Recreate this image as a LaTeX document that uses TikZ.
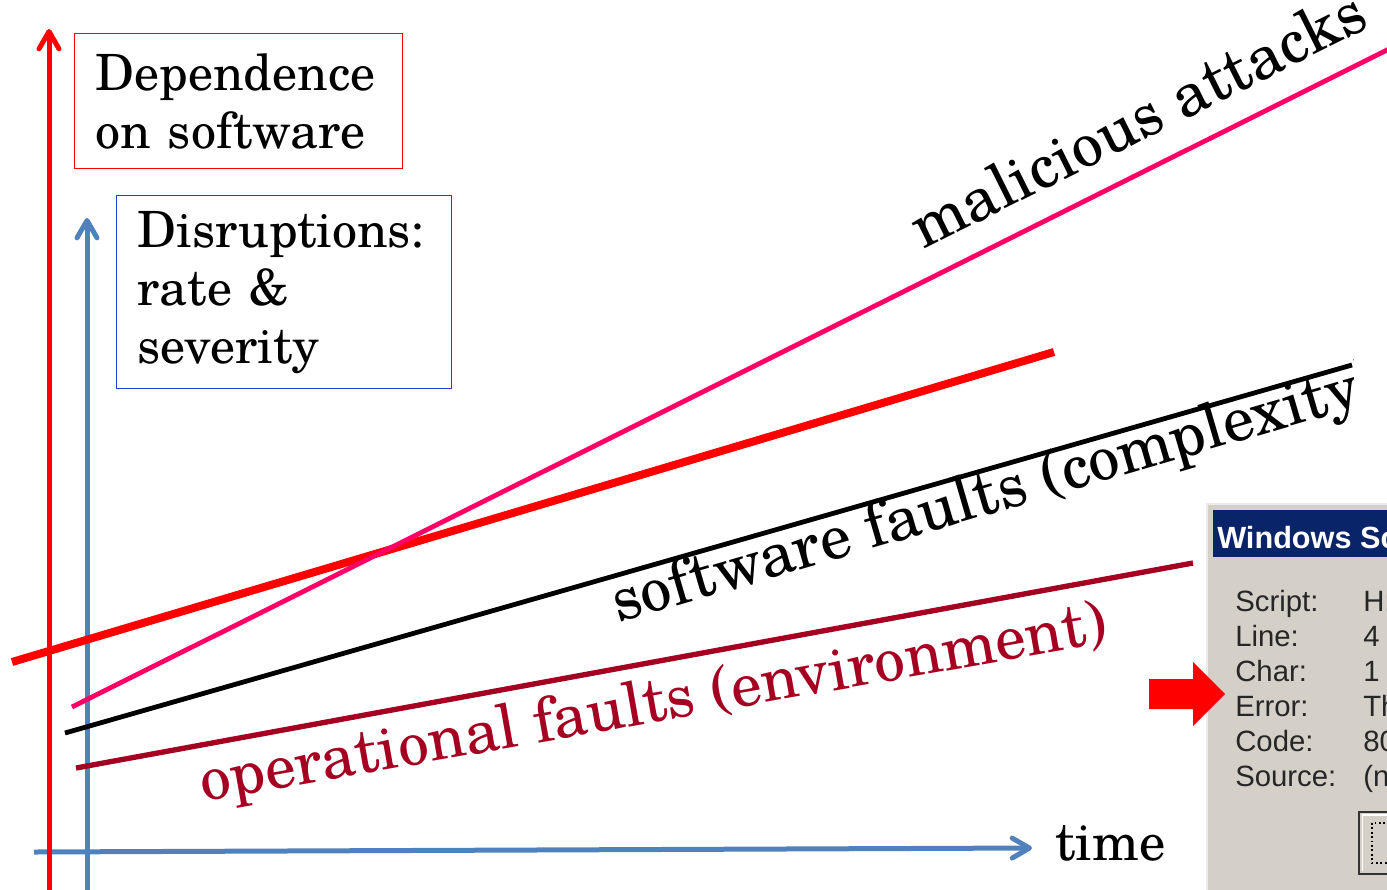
\documentclass[tikz,border=0pt]{standalone}
\usepackage{fontspec}
\setmainfont{TeX Gyre Schola}
\newfontfamily\dlgfont{Liberation Sans}
\usetikzlibrary{arrows.meta}
\definecolor{axisblue}{RGB}{79,129,189}
\definecolor{boxblue}{RGB}{30,60,210}
\definecolor{pinkline}{RGB}{255,0,102}
\definecolor{darkred}{RGB}{165,0,33}
\definecolor{dlggrey}{RGB}{212,208,200}
\definecolor{titleblue}{RGB}{10,36,106}
\tikzset{
  axisarrow/.style={line width=3.75pt, -{Straight Barb[length=13pt,width=15pt,round]}},
  labelbox/.style={rectangle, line width=1.1pt, align=left, inner xsep=15.75pt, anchor=north west,
     font=\fontsize{37.5pt}{43.5pt}\selectfont},
  trend/.style={line cap=butt},
  slanted/.style={anchor=base west, inner sep=0pt},
  dlglabel/.style={anchor=base west, inner sep=0pt, font=\dlgfont\fontsize{22pt}{26pt}\selectfont, text=black!85},
}
\begin{document}
\begin{tikzpicture}[x=0.75pt,y=-0.75pt]
\useasboundingbox (0,0) rectangle (1387,889);
% axis coordinates
\coordinate (hl) at (34,852);
\coordinate (hr) at (1032,848);
\coordinate (rb) at (49,895);
\coordinate (rt) at (49,29);
\coordinate (bb) at (87,895);
\coordinate (bt) at (87,218);
\draw[axisblue, axisarrow] (hl) -- (hr);
\draw[axisblue, axisarrow] (bb) -- (bt);
\draw[red, axisarrow] (rb) -- (rt);
% trend lines
\coordinate (r1) at (12,662);  \coordinate (r2) at (1054,352);
\coordinate (p1) at (72,707);  \coordinate (p2) at (1400,43.5);
\coordinate (k1) at (65,733);  \coordinate (k2) at (1352,365);
\coordinate (d1) at (76,768);  \coordinate (d2) at (1193,563);
\draw[trend, red, line width=6pt] (r1) -- (r2);
\draw[trend, pinkline, line width=3.6pt] (p1) -- (p2);
\draw[trend, black, line width=3.6pt] (k1) -- (k2);
\draw[trend, darkred, line width=4pt] (d1) -- (d2);
% boxes
\node[labelbox, draw=red, minimum width=246pt, minimum height=101.25pt, text width=214.5pt] (dep) at (74,33) {Dependence\\on software};
\node[labelbox, draw=boxblue, minimum width=251.25pt, minimum height=144.75pt, text width=219.75pt] (dis) at (116,195) {Disruptions:\\rate \&\\severity};
% axis label
\node[slanted, font=\fontsize{39.5pt}{45pt}\selectfont] (time) at (1055,860) {time};
% slanted labels
\node[slanted, rotate=26.5, font=\fontsize{46.5pt}{50pt}\selectfont] (mal) at (923,250) {malicious attacks};
\begin{scope}
\clip (0,0) rectangle (1353,889);
\node[slanted, rotate=16.3, font=\fontsize{46.8pt}{50pt}\selectfont] (sw) at (618,623) {software faults (complexity)};
\end{scope}
\node[slanted, rotate=10, text=darkred, font=\fontsize{46pt}{50pt}\selectfont] (op) at (203,802) {operational faults (environment)};
% dialog
\begin{scope}
\clip (0,0) rectangle (1387,889);
\fill[dlggrey] (1206,503) rectangle (1400,900);
\draw[white!92!black, line width=1.5pt] (1206.5,900) -- (1206.5,503.5) -- (1400,503.5);
\fill[titleblue] (1213,510) rectangle (1400,557);
\node[anchor=base west, inner sep=0pt, text=white, font=\dlgfont\bfseries\fontsize{23pt}{26pt}\selectfont] (title) at (1217,548) {Windows Sc};
\node[dlglabel] (l1) at (1235,611) {Script:};
\node[dlglabel] (l2) at (1235,646) {Line:};
\node[dlglabel] (l3) at (1235,681) {Char:};
\node[dlglabel] (l4) at (1235,716) {Error:};
\node[dlglabel] (l5) at (1235,751) {Code:};
\node[dlglabel] (l6) at (1235,786) {Source:};
\node[dlglabel] (v1) at (1363,611) {H:};
\node[dlglabel] (v2) at (1363,646) {4};
\node[dlglabel] (v3) at (1363,681) {1};
\node[dlglabel] (v4) at (1363,716) {Th};
\node[dlglabel] (v5) at (1363,751) {80};
\node[dlglabel] (v6) at (1363,786) {(n};
\draw[black!80, line width=1.8pt] (1359,812) rectangle (1420,874);
\draw[white, line width=1.2pt] (1362.5,871) -- (1362.5,815) -- (1420,815);
\draw[black, dotted, line width=1.3pt] (1372,823) rectangle (1420,863);
\end{scope}
% pointer arrow
\fill[red] (1149,679) -- (1193,679) -- (1193,662) -- (1225,694) -- (1193,726) -- (1193,709) -- (1149,709) -- cycle;
\end{tikzpicture}
\end{document}
